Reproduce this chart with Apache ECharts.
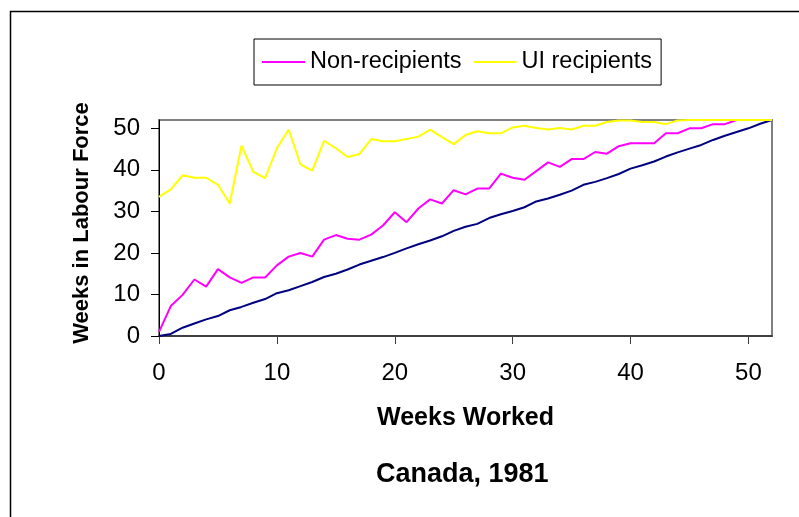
<!DOCTYPE html>
<html>
<head>
<meta charset="utf-8">
<script src="https://cdn.jsdelivr.net/npm/echarts@6/dist/echarts.min.js"></script>
<style>
html,body{margin:0;padding:0;background:#fff;}
#chart{width:799px;height:517px;}
</style>
</head>
<body>
<div id="chart"></div>
<script>
// Weeks worked (x)
const weeks = [0,1,2,3,4,5,6,7,8,9,10,11,12,13,14,15,16,17,18,19,20,21,22,23,24,25,26,27,28,29,30,31,32,33,34,35,36,37,38,39,40,41,42,43,44,45,46,47,48,49,50,51,52];
// Reference line (navy)
const reference = [0,0.5,2,3,4,4.8,6.2,7,8,8.9,10.3,11,12,13,14.2,15,16,17.2,18.1,19,20,21.1,22.1,23,24,25.3,26.3,27,28.4,29.3,30.1,31,32.4,33.1,34,35,36.4,37.1,38,39,40.3,41.1,42,43.2,44.2,45.1,46,47.2,48.2,49.1,50,51.1,52];
// Non-recipients (magenta)
const nonRecipients = [1,7.2,9.9,13.6,11.9,16.1,14.1,12.8,14.1,14.1,17,19.1,20,19.1,23.2,24.3,23.4,23.2,24.4,26.6,29.8,27.4,30.7,32.9,31.9,35.1,34.1,35.5,35.5,39.1,38.1,37.6,39.7,41.8,40.7,42.6,42.6,44.3,43.9,45.7,46.4,46.4,46.4,48.8,48.8,50,50,51,51,52,52,52,52];
// UI recipients (yellow)
const uiRecipients = [33.5,35.3,38.7,38.1,38.1,36.4,31.9,45.8,39.5,38,45.2,49.7,41.3,39.8,47,45.2,43.1,43.8,47.4,46.9,46.9,47.4,48,49.7,47.9,46.2,48.4,49.3,48.8,48.8,50.2,50.6,50.1,49.7,50.1,49.7,50.6,50.6,51.5,51.9,51.9,51.5,51.5,51,51.9,52,52,52,52,52,52,52,52];
// Tick labels
const tickValues = [0,10,20,30,40,50];

const pairs = arr => weeks.map((w, i) => [w, arr[i]]);
const FONT = "'Liberation Sans', Arial, sans-serif";

const chart = echarts.init(document.getElementById('chart'), null, {renderer: 'canvas'});
chart.setOption({
  animation: false,
  backgroundColor: '#ffffff',
  title: {
    text: 'Canada, 1981',
    left: 376,
    top: 461,
    padding: 0,
    textStyle: {fontFamily: FONT, fontWeight: 'bold', fontSize: 27, color: '#000'}
  },
  graphic: [{
    type: 'rect',
    shape: {x: 10.5, y: 11.5, width: 820, height: 540},
    style: {fill: 'none', stroke: '#000', lineWidth: 1.5},
    silent: true,
    z: -1
  }],
  legend: {
    left: 254,
    top: 39,
    padding: [11, 9, 11, 8],
    itemGap: 12,
    itemWidth: 43,
    itemHeight: 2,
    icon: 'rect',
    borderColor: '#000',
    borderWidth: 1,
    data: ['Non-recipients', 'UI recipients'],
    textStyle: {fontFamily: FONT, fontSize: 23.5, color: '#000'}
  },
  grid: {
    left: 159,
    right: 27,
    top: 120,
    bottom: 181,
    show: true,
    borderColor: '#808080',
    borderWidth: 2,
    backgroundColor: 'transparent'
  },
  xAxis: {
    type: 'value',
    min: 0,
    max: 52,
    interval: 10,
    name: 'Weeks Worked',
    nameLocation: 'middle',
    nameGap: 70,
    nameTextStyle: {fontFamily: FONT, fontWeight: 'bold', fontSize: 25, color: '#000'},
    axisLine: {show: true, onZero: false, lineStyle: {color: '#404040', width: 2}},
    axisTick: {show: true, length: 8, customValues: tickValues, lineStyle: {color: '#404040', width: 1}},
    axisLabel: {customValues: tickValues, margin: 25, fontFamily: FONT, fontSize: 24, color: '#000'},
    splitLine: {show: false}
  },
  yAxis: {
    type: 'value',
    min: 0,
    max: 52,
    interval: 10,
    name: 'Weeks in Labour Force',
    nameLocation: 'middle',
    nameGap: 66,
    nameTextStyle: {fontFamily: FONT, fontWeight: 'bold', fontSize: 22, color: '#000', padding: [0, 0, 0, 10]},
    axisLine: {show: true, onZero: false, lineStyle: {color: '#000', width: 1}},
    axisTick: {show: true, length: 8, customValues: tickValues, lineStyle: {color: '#000', width: 1}},
    axisLabel: {customValues: tickValues, margin: 19, fontFamily: FONT, fontSize: 24, color: '#000'},
    splitLine: {show: false}
  },
  series: [
    {
      name: 'Reference',
      type: 'line',
      data: pairs(reference),
      symbol: 'none',
      lineStyle: {color: '#000080', width: 2},
      itemStyle: {color: '#000080'},
      z: 2
    },
    {
      name: 'Non-recipients',
      type: 'line',
      data: pairs(nonRecipients),
      symbol: 'none',
      lineStyle: {color: '#FF00FF', width: 2},
      itemStyle: {color: '#FF00FF'},
      z: 3
    },
    {
      name: 'UI recipients',
      type: 'line',
      data: pairs(uiRecipients),
      symbol: 'none',
      lineStyle: {color: '#FFFF00', width: 2},
      itemStyle: {color: '#FFFF00'},
      z: 4
    }
  ]
});
</script>
</body>
</html>
